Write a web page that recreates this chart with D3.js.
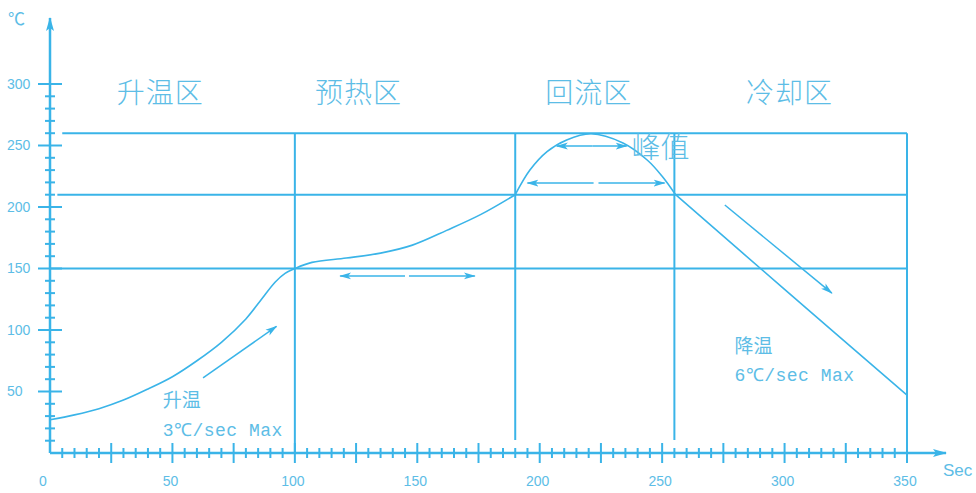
<!DOCTYPE html>
<html lang="zh">
<head>
  <meta charset="utf-8">
  <title>回流焊温度曲线</title>
  <script src="https://cdn.jsdelivr.net/npm/d3@7/dist/d3.min.js"></script>
  <style>
    html, body { margin: 0; padding: 0; background: #fff; }
    svg { display: block; }
  </style>
</head>
<body>
  <div id="chart"></div>

  <script>
    // ── data ──────────────────────────────────────────────
    const profileTime = [0, 10, 20, 30, 40, 50, 60, 70, 80, 86, 92, 96, 100, 107, 121, 135, 148, 162, 176, 190, 196, 203, 211, 221, 234, 244, 250, 255.5, 300, 350];
    const profileTemp = [27, 31, 36, 43, 52, 62, 75, 90, 109, 124, 139, 146, 150, 155, 158.5, 162.5, 169, 181, 194, 210, 230, 245, 254.5, 259.5, 252, 238, 225, 210, 133, 47];
    const curveBreaks = [190, 255.5];          // the profile bends sharply here

    const zoneNames  = ['升温区', '预热区', '回流区', '冷却区'];
    const zoneLabelX = [45, 126, 220, 302];
    const zoneBounds = [100, 190, 255, 350];   // vertical reference lines (sec)
    const refTemps   = [260, 210, 150];        // horizontal reference lines (℃)

    const yTickLabels = [50, 100, 150, 200, 250, 300];
    const xTickLabels = [0, 50, 100, 150, 200, 250, 300, 350];

    // ── layout ────────────────────────────────────────────
    const W = 976, H = 493;
    const COLOR = '#3ab4e8', TEXT = '#5dbde6';

    const x = d3.scaleLinear().domain([0, 350]).range([50, 907]);
    const y = d3.scaleLinear().domain([0, 300]).range([453, 84]);

    const svg = d3.select('#chart').append('svg')
      .attr('width', W).attr('height', H)
      .attr('viewBox', [0, 0, W, H]);

    const defs = svg.append('defs');
    defs.append('marker')
        .attr('id', 'head')
        .attr('viewBox', '0 -5 12 10')
        .attr('refX', 11).attr('refY', 0)
        .attr('markerWidth', 12).attr('markerHeight', 10)
        .attr('markerUnits', 'userSpaceOnUse')
        .attr('orient', 'auto')
      .append('path').attr('d', 'M0,-3.5L12,0L0,3.5L3,0Z').attr('fill', COLOR);
    defs.append('marker')
        .attr('id', 'axisHead')
        .attr('viewBox', '0 -5 14 10')
        .attr('refX', 13).attr('refY', 0)
        .attr('markerWidth', 14).attr('markerHeight', 10)
        .attr('markerUnits', 'userSpaceOnUse')
        .attr('orient', 'auto')
      .append('path').attr('d', 'M0,-4L14,0L0,4L3,0Z').attr('fill', COLOR);

    // ── reference grid ───────────────────────────────────
    const grid = svg.append('g').attr('stroke', COLOR).attr('stroke-width', 2).attr('fill', 'none');
    const refStart = { 260: 5, 210: 3, 150: 0 };
    grid.selectAll('line.h').data(refTemps).join('line')
        .attr('x1', d => x(refStart[d])).attr('x2', x(350))
        .attr('y1', d => y(d)).attr('y2', d => y(d));
    grid.selectAll('line.v').data(zoneBounds).join('line')
        .attr('x1', d => x(d)).attr('x2', d => x(d))
        .attr('y1', y(260))
        .attr('y2', d => (d === 190 || d === 255) ? y(10.5) : y(0));

    // ── axes ─────────────────────────────────────────────
    const axes = svg.append('g').attr('stroke', COLOR).attr('stroke-width', 2.5);
    axes.append('line')
        .attr('x1', x(0)).attr('x2', x(0)).attr('y1', y(0)).attr('y2', 18)
        .attr('marker-end', 'url(#axisHead)');
    axes.append('line')
        .attr('x1', x(0)).attr('x2', 946).attr('y1', y(0)).attr('y2', y(0))
        .attr('marker-end', 'url(#axisHead)');

    // y ticks every 10 ℃, long at every 50
    const yTicks = d3.range(10, 301, 10);
    axes.selectAll('line.yt').data(yTicks).join('line')
        .attr('stroke-width', 2)
        .attr('x1', d => x(0) - (d % 50 === 0 ? 12 : 5))
        .attr('x2', d => x(0) + (d % 50 === 0 ? 12 : 5))
        .attr('y1', d => y(d)).attr('y2', d => y(d));

    // x ticks every 5 sec, long at every 25
    const xTicks = d3.range(5, 351, 5);
    axes.selectAll('line.xt').data(xTicks).join('line')
        .attr('stroke-width', 2)
        .attr('x1', d => x(d)).attr('x2', d => x(d))
        .attr('y1', d => y(0) - (d % 25 === 0 ? 10 : 5))
        .attr('y2', d => y(0) + (d % 25 === 0 ? 10 : 5));

    const labels = svg.append('g')
        .attr('fill', TEXT)
        .attr('font-family', '"Liberation Sans", Arial, sans-serif')
        .attr('font-size', 14);
    labels.selectAll('text.yl').data(yTickLabels).join('text')
        .attr('x', 7).attr('y', d => y(d)).attr('dy', '0.35em')
        .text(d => d);
    labels.selectAll('text.xl').data(xTickLabels).join('text')
        .attr('x', d => x(d) - (d === 0 ? 7 : 2)).attr('y', 486)
        .attr('text-anchor', 'middle')
        .text(d => d);

    svg.append('text').attr('x', 8).attr('y', 25)
        .attr('fill', TEXT).attr('font-family', '"Noto Sans CJK SC", sans-serif').attr('font-size', 17)
        .text('℃');
    svg.append('text').attr('x', 943).attr('y', 476)
        .attr('fill', TEXT).attr('font-family', '"Liberation Sans", Arial, sans-serif').attr('font-size', 17)
        .text('Sec');

    // ── profile curve (smooth pieces between the sharp bends) ──
    const profile = profileTime.map((t, i) => ({ t, v: profileTemp[i] }));
    const edges = [0, ...curveBreaks, 350];
    const pieces = d3.pairs(edges).map(([a, b]) => profile.filter(d => d.t >= a && d.t <= b));
    const line = d3.line()
        .x(d => x(d.t)).y(d => y(d.v))
        .curve(d3.curveCatmullRom.alpha(0.5));
    svg.append('g').selectAll('path').data(pieces).join('path')
        .attr('fill', 'none')
        .attr('stroke', COLOR)
        .attr('stroke-width', 1.6)
        .attr('stroke-linejoin', 'round')
        .attr('d', line);

    // ── arrows (each from tail to head, in sec / ℃) ──────
    const arrows = [
      [[62.5, 61], [92.5, 103]],
      [[145, 144], [118.5, 144]], [[146.6, 144], [173.5, 144]],
      [[221.5, 249.5], [207, 249.5]], [[221.5, 249.5], [235.5, 249.5]],
      [[222, 219.5], [195, 219.5]], [[224, 219.5], [251, 219.5]],
      [[275.6, 201.6], [319.3, 130]]
    ];
    svg.append('g').selectAll('line').data(arrows).join('line')
        .attr('stroke', COLOR).attr('stroke-width', 1.5)
        .attr('x1', d => x(d[0][0])).attr('y1', d => y(d[0][1]))
        .attr('x2', d => x(d[1][0])).attr('y2', d => y(d[1][1]))
        .attr('marker-end', 'url(#head)');

    // ── annotations ──────────────────────────────────────
    const cjk = '"Noto Sans CJK SC", "Noto Sans", sans-serif';
    svg.append('g').selectAll('text').data(zoneNames).join('text')
        .attr('x', (d, i) => x(zoneLabelX[i])).attr('y', y(292.5))
        .attr('dy', '0.36em')
        .attr('text-anchor', 'middle')
        .attr('fill', TEXT)
        .attr('font-family', cjk).attr('font-weight', 300)
        .attr('font-size', 28).attr('letter-spacing', 1)
        .text(d => d);

    svg.append('text')
        .attr('x', x(237.5)).attr('y', y(248)).attr('dy', '0.36em')
        .attr('fill', TEXT).attr('font-family', cjk).attr('font-weight', 300)
        .attr('font-size', 29)
        .text('峰值');

    const notes = [
      { t: 46, v: 43, title: '升温', rate: '3℃/sec Max' },
      { t: 279.5, v: 87, title: '降温', rate: '6℃/sec Max' }
    ];
    const note = svg.append('g').selectAll('g').data(notes).join('g')
        .attr('transform', d => `translate(${x(d.t)},${y(d.v)})`)
        .attr('fill', TEXT);
    note.append('text')
        .attr('font-family', cjk).attr('font-size', 19)
        .attr('dy', '0.36em')
        .text(d => d.title);
    note.append('text')
        .attr('font-family', '"Liberation Mono", "DejaVu Sans Mono", monospace')
        .attr('font-size', 18)
        .attr('y', 29).attr('dy', '0.36em')
        .attr('letter-spacing', 0.5)
        .text(d => d.rate);
  </script>
</body>
</html>
